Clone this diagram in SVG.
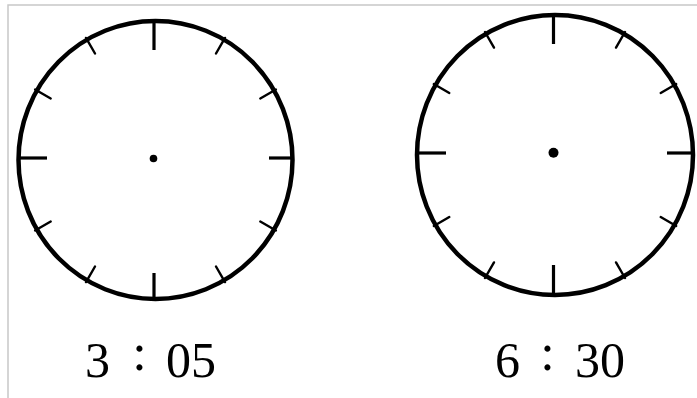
<svg xmlns="http://www.w3.org/2000/svg" width="697" height="398" viewBox="0 0 697 398">
<style>
.face{fill:none;stroke:#000;stroke-width:4.5}
.major{stroke:#000;stroke-width:3.2;stroke-linecap:butt}
.minor{stroke:#000;stroke-width:2.4;stroke-linecap:round}
.lbl{font-family:"Liberation Serif","Times New Roman",serif;font-size:50px;fill:#000}
.col{font-size:52px}
.frame{stroke:#c8c8c8;stroke-width:1.5;fill:none}
</style>
<rect x="0" y="0" width="697" height="398" fill="#fff"/>
<path class="frame" d="M8,398 V5 H697"/>
<g id="clock-left">
  <ellipse class="face" cx="155.5" cy="160" rx="137" ry="139"/>
  <line class="major" x1="154" y1="19" x2="154" y2="50"/>
  <line class="major" x1="154" y1="273" x2="154" y2="300"/>
  <line class="major" x1="18" y1="158" x2="47" y2="158"/>
  <line class="major" x1="269" y1="158" x2="294" y2="158"/>
  <line class="minor" x1="225" y1="37.9" x2="216" y2="53.5"/>
  <line class="minor" x1="86" y1="37.9" x2="95" y2="53.5"/>
  <line class="minor" x1="225" y1="282.1" x2="216" y2="266.5"/>
  <line class="minor" x1="86" y1="282.1" x2="95" y2="266.5"/>
  <line class="minor" x1="275.9" y1="89.5" x2="260.3" y2="98.5"/>
  <line class="minor" x1="35.1" y1="89.5" x2="50.7" y2="98.5"/>
  <line class="minor" x1="275.9" y1="230.5" x2="260.3" y2="221.5"/>
  <line class="minor" x1="35.1" y1="230.5" x2="50.7" y2="221.5"/>
  <circle cx="153.5" cy="158.5" r="3.8" fill="#000"/>
</g>
<g id="clock-right">
  <ellipse class="face" cx="555" cy="155" rx="138" ry="140"/>
  <line class="major" x1="553.5" y1="15" x2="553.5" y2="44"/>
  <line class="major" x1="553.5" y1="265" x2="553.5" y2="295"/>
  <line class="major" x1="416" y1="153" x2="446" y2="153"/>
  <line class="major" x1="667" y1="153" x2="693" y2="153"/>
  <line class="minor" x1="625" y1="32" x2="616" y2="47.6"/>
  <line class="minor" x1="485" y1="32" x2="494" y2="47.6"/>
  <line class="minor" x1="625" y1="278" x2="616" y2="262.4"/>
  <line class="minor" x1="485" y1="278" x2="494" y2="262.4"/>
  <line class="minor" x1="676.2" y1="84" x2="660.7" y2="93"/>
  <line class="minor" x1="433.8" y1="84" x2="449.3" y2="93"/>
  <line class="minor" x1="676.2" y1="226" x2="660.7" y2="217"/>
  <line class="minor" x1="433.8" y1="226" x2="449.3" y2="217"/>
  <circle cx="553.5" cy="152.8" r="5" fill="#000"/>
</g>
<g id="label-left">
  <text class="lbl" y="377"><tspan x="85">3</tspan><tspan class="col" x="139.5" y="370" text-anchor="middle">:</tspan><tspan x="166" y="377">05</tspan></text>
</g>
<g id="label-right">
  <text class="lbl" y="377"><tspan x="495">6</tspan><tspan class="col" x="547.5" y="370" text-anchor="middle">:</tspan><tspan x="575" y="377">30</tspan></text>
</g>
</svg>
